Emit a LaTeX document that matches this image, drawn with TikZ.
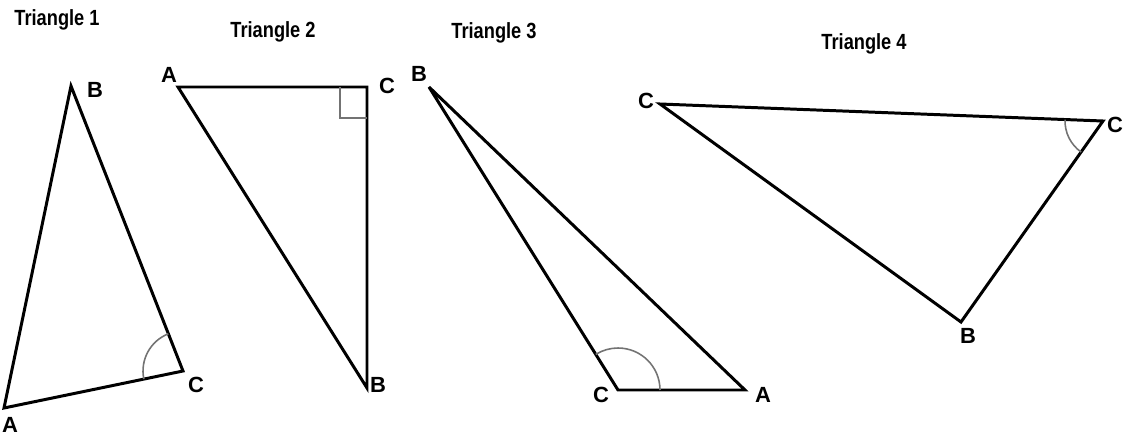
\documentclass[tikz,border=0pt]{standalone}
\usepackage{fontspec}
\setmainfont{Liberation Sans}
\newfontfamily\narrowsans[FakeStretch=0.83]{Liberation Sans}
\usetikzlibrary{angles}

\begin{document}
\begin{tikzpicture}[
  x=0.02cm, y=-0.02cm,
  side/.style={draw=black, line width=1.7pt, miter limit=4},
  marker/.style={draw=black!55, line width=0.9pt},
  title/.style={font=\narrowsans\fontsize{12.5}{14}\selectfont\bfseries, inner sep=0pt},
  vlabel/.style={font=\fontsize{12.5}{14}\selectfont\bfseries, inner sep=0pt},
]
\useasboundingbox (0,0) rectangle (1126,439);

\coordinate (t1A) at (4,408);
\coordinate (t1B) at (71,86);
\coordinate (t1C) at (183,371);
\coordinate (t2A) at (178,87);
\coordinate (t2C) at (367,87);
\coordinate (t2B) at (367,388);
\coordinate (t3B) at (429,87);
\coordinate (t3C) at (618,390);
\coordinate (t3A) at (745,390);
\coordinate (t4C) at (660,104);
\coordinate (t4D) at (1103,121);
\coordinate (t4B) at (961,322);

\node[title] (title1) at (57,20) {Triangle 1};
\node[title] (title2) at (273,32) {Triangle 2};
\node[title] (title3) at (494,33) {Triangle 3};
\node[title] (title4) at (864,44) {Triangle 4};

\draw[side] (t1A) -- (t1B) -- (t1C) -- cycle;
\draw[side] (t2A) -- (t2C) -- (t2B) -- cycle;
\draw[side] (t3B) -- (t3C) -- (t3A) -- cycle;
\draw[side] (t4C) -- (t4D) -- (t4B) -- cycle;

\pic[marker, angle radius=0.8cm] {angle=t1B--t1C--t1A};
\draw[marker] (t2C) ++(-27,0) -- ++(0,31) -- ++(27,0);
\pic[marker, angle radius=0.84cm] {angle=t3A--t3C--t3B};
\pic[marker, angle radius=0.76cm] {angle=t4C--t4D--t4B};

\node[vlabel] (l1B) at (95,90) {B};
\node[vlabel] (l1C) at (196,385) {C};
\node[vlabel] (l1A) at (10,425) {A};
\node[vlabel] (l2A) at (169,75) {A};
\node[vlabel] (l2C) at (387,86) {C};
\node[vlabel] (l2B) at (378,385) {B};
\node[vlabel] (l3B) at (419,74) {B};
\node[vlabel] (l3C) at (601,395) {C};
\node[vlabel] (l3A) at (763,395) {A};
\node[vlabel] (l4C) at (646,101) {C};
\node[vlabel] (l4D) at (1115,125) {C};
\node[vlabel] (l4B) at (968,336) {B};
\end{tikzpicture}
\end{document}
